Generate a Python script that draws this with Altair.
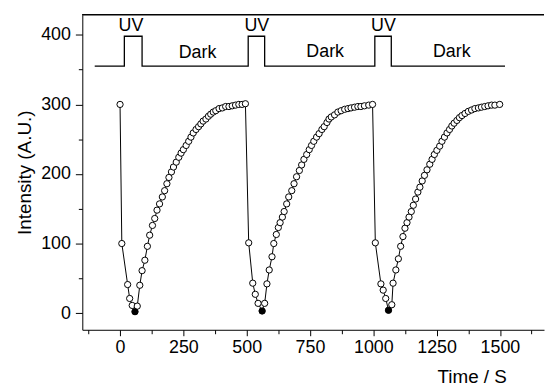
import altair as alt
import pandas as pd

# Cycle 1 (time s, intensity)
c1_t = [0, 7, 30, 38, 48, 59, 68, 78, 87, 98, 108, 117, 128, 137, 146, 156, 167, 176, 185, 193,
        203, 211, 222, 232, 241, 250, 261, 271, 280, 289, 300, 310, 319, 328, 339, 349, 358, 368,
        378, 391, 404, 417, 430, 443, 456, 469, 482, 495]
c1_v = [300, 100, 41, 21, 11, 2, 10, 40, 61, 76, 96, 112, 126, 136, 148, 157, 167, 176, 186, 195,
        203, 210, 217, 224, 230, 235, 241, 247, 253, 259, 264, 268, 272, 276, 279, 283, 286, 289,
        291, 294, 295, 297, 297, 298, 299, 300, 300, 301]
# Cycle 2
c2_t = [508, 524, 534, 545, 561, 571, 580, 589, 600, 607, 617, 625, 632, 641, 648, 658, 666, 678,
        687, 697, 708, 717, 726, 737, 747, 756, 765, 776, 786, 797, 806, 817, 825, 834, 847, 860,
        873, 887, 900, 912, 926, 939, 951, 965, 982, 997]
c2_v = [101, 43, 27, 14, 3, 14, 42, 62, 81, 100, 113, 123, 130, 138, 146, 157, 167, 176,
        186, 196, 205, 213, 221, 228, 235, 241, 247, 253, 258, 264, 268, 274, 279, 282, 285, 289,
        291, 293, 294, 295, 296, 297, 297, 298, 299, 300]
# Cycle 3
c3_t = [1008, 1030, 1039, 1049, 1060, 1073, 1078, 1089, 1099, 1108, 1117, 1125, 1133, 1141, 1150,
        1158, 1167, 1176, 1184, 1193, 1202, 1212, 1223, 1232, 1241, 1251, 1262, 1271, 1281, 1291,
        1301, 1310, 1319, 1330, 1340, 1350, 1362, 1375, 1388, 1401, 1415, 1427, 1440, 1453, 1467,
        1480, 1499]
c3_v = [101, 42, 33, 21, 4, 12, 43, 62, 78, 96, 110, 122, 130, 138, 146,
        155, 164, 174, 181, 190, 198, 206, 214, 221, 228, 234, 240, 247, 253, 259,
        264, 269, 273, 277, 281, 284, 287, 290, 292, 294, 295, 296, 297, 298, 299,
        299, 300]

# filled (minimum) points
min_t = [59, 561, 1060]
min_v = [2, 3, 4]

# UV / Dark illumination trace
step_t = [-100, 17, 17, 87, 87, 506, 506, 571, 571, 1006, 1006, 1071, 1071, 1520]
step_v = [355, 355, 398, 398, 355, 355, 398, 398, 355, 355, 398, 398, 355, 355]

label_text = ["UV", "Dark", "UV", "Dark", "UV", "Dark"]
label_t = [43, 306, 540, 810, 1040, 1310]
label_v = [413, 374, 413, 375, 413, 376]

x_ticks = [-125, 0, 125, 250, 375, 500, 625, 750, 875, 1000, 1125, 1250, 1375, 1500, 1625]
y_ticks = [0, 50, 100, 150, 200, 250, 300, 350, 400]

all_t = c1_t + c2_t + c3_t
all_v = c1_v + c2_v + c3_v
df = pd.DataFrame({"t": all_t, "v": all_v, "i": list(range(len(all_t)))})
df_min = pd.DataFrame({"t": min_t, "v": min_v})
df_step = pd.DataFrame({"t": step_t, "v": step_v, "i": list(range(len(step_t)))})
df_lab = pd.DataFrame({"t": label_t, "v": label_v, "s": label_text})

W, H = 466, 318
FONT = "Liberation Sans"

xs = alt.Scale(domain=[-149, 1674], nice=False, zero=False)
ys = alt.Scale(domain=[-24, 429], nice=False, zero=False)

x_axis = alt.Axis(
    values=x_ticks, format="d", title="Time / S",
    labelExpr="datum.value % 250 === 0 ? datum.label : ''",
    tickSize={"condition": {"test": "datum.value % 250 === 0", "value": 6}, "value": 4},
    labelPadding=3, titleAnchor="start", titleAlign="center", titleX=393, titleY=38,
    titleBaseline="top",
)
y_axis = alt.Axis(
    values=y_ticks, format="d", title="Intensity (A.U.)",
    labelExpr="datum.value % 100 === 0 ? datum.label : ''",
    tickSize={"condition": {"test": "datum.value % 100 === 0", "value": 7}, "value": 4},
    labelPadding=5, titlePadding=6,
)

X = alt.X("t:Q", scale=xs, axis=x_axis)
Y = alt.Y("v:Q", scale=ys, axis=y_axis)

line = alt.Chart(df).mark_line(color="black", strokeWidth=1).encode(x=X, y=Y, order="i:Q")
pts = alt.Chart(df).mark_point(shape="circle", filled=True, fill="white", stroke="black",
                               strokeWidth=1, size=40, opacity=1).encode(x=X, y=Y)
pts_min = alt.Chart(df_min).mark_point(shape="circle", filled=True, color="black",
                                       size=44, opacity=1).encode(x=X, y=Y)
step = alt.Chart(df_step).mark_line(color="black", strokeWidth=1.3).encode(x=X, y=Y, order="i:Q")
labels = alt.Chart(df_lab).mark_text(font=FONT, fontSize=18, color="black").encode(
    x=X, y=Y, text="s:N")
top = alt.Chart(df_min).mark_rule(color="black", strokeWidth=1).encode(
    x=alt.value(0), x2=alt.value(W), y=alt.value(0))

chart = alt.layer(step, labels, line, pts, pts_min, top).properties(
    width=W, height=H,
    padding={"left": 7, "top": 4, "right": 0, "bottom": 0},
).configure_view(stroke=None).configure_axis(
    grid=False, domainColor="black", tickColor="black", labelColor="black",
    titleColor="black", labelFont=FONT, titleFont=FONT, labelFontSize=18,
    titleFontSize=19, titleFontWeight="normal", domainWidth=1, tickWidth=1,
)

chart.save("out.html", embed_options={"renderer": "svg", "actions": False})
